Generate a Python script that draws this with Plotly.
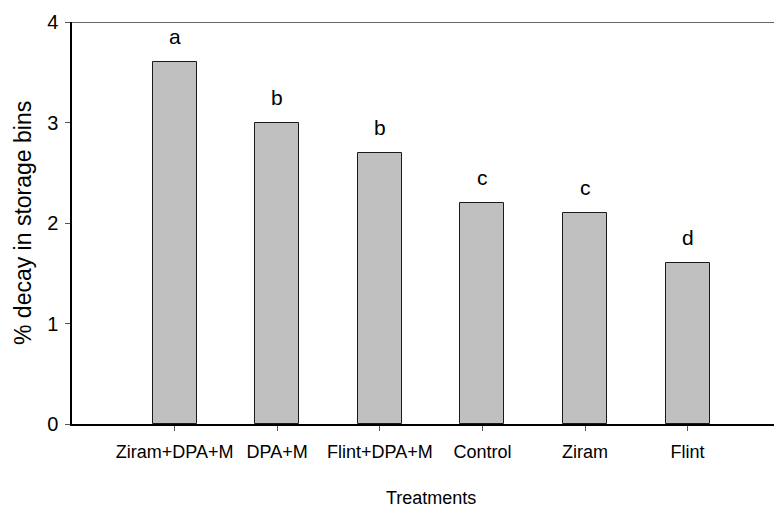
import plotly.graph_objects as go

treatments = ["Ziram+DPA+M", "DPA+M", "Flint+DPA+M", "Control", "Ziram", "Flint"]
decay = [3.6, 3.0, 2.7, 2.2, 2.1, 1.6]
letters = ["a", "b", "b", "c", "c", "d"]
y_ticks = [0, 1, 2, 3, 4]

FONT = "Liberation Sans, Arial, sans-serif"
# page has an 8px body margin, so the figure is sized/offset to compensate
OFF = 8
W, H = 782 - OFF, 507 - OFF
L, R, T = 72 - OFF, 0, 22 - OFF
B = H - (424 - OFF)

fig = go.Figure()
fig.add_trace(go.Bar(
    x=list(range(len(treatments))), y=decay,
    width=0.43,
    marker=dict(color="#c0c0c0", line=dict(color="#1a1a1a", width=1)),
    hoverinfo="skip",
))

for i, (v, lab) in enumerate(zip(decay, letters)):
    fig.add_annotation(x=i, y=v, text=lab, showarrow=False, xref="x", yref="y",
                       yanchor="bottom", yshift=12,
                       font=dict(family=FONT, size=21, color="black"))

# x-axis title centred on the full plot (which extends slightly past the image)
fig.add_annotation(x=2.5, y=0, xref="x", yref="paper", text="Treatments",
                   showarrow=False, yanchor="bottom", yshift=-(510 - 424),
                   font=dict(family=FONT, size=18, color="black"))
fig.add_annotation(x=(23 - 72) / (W - L - R), y=0.5, xref="paper", yref="paper",
                   text="% decay in storage bins", textangle=-90, showarrow=False,
                   xanchor="center", yanchor="middle",
                   font=dict(family=FONT, size=23, color="black"))

# top frame line
fig.add_shape(type="line", xref="paper", yref="y", x0=0, x1=1, y0=4, y1=4,
              line=dict(color="#666666", width=2))

fig.update_layout(
    width=W, height=H,
    margin=dict(l=L, r=R, t=T, b=B, autoexpand=False),
    paper_bgcolor="white", plot_bgcolor="white",
    showlegend=False,
    bargap=0,
    xaxis=dict(
        range=[-1, 5.92],
        tickmode="array", tickvals=list(range(len(treatments))), ticktext=treatments,
        showline=True, linecolor="black", linewidth=1.5,
        ticks="outside", ticklen=5, tickcolor="#555555", tickwidth=1,
        showgrid=False, zeroline=False,
        tickfont=dict(family=FONT, size=18, color="black"),
        ticklabelstandoff=6,
    ),
    yaxis=dict(
        range=[0, 4],
        tickmode="array", tickvals=y_ticks, ticktext=[str(t) for t in y_ticks],
        showline=True, linecolor="black", linewidth=1.5,
        ticks="outside", ticklen=5, tickcolor="#555555", tickwidth=1,
        showgrid=False, zeroline=False,
        tickfont=dict(family=FONT, size=20, color="black"),
        ticklabelstandoff=3,
    ),
)

fig.write_html("out.html")
